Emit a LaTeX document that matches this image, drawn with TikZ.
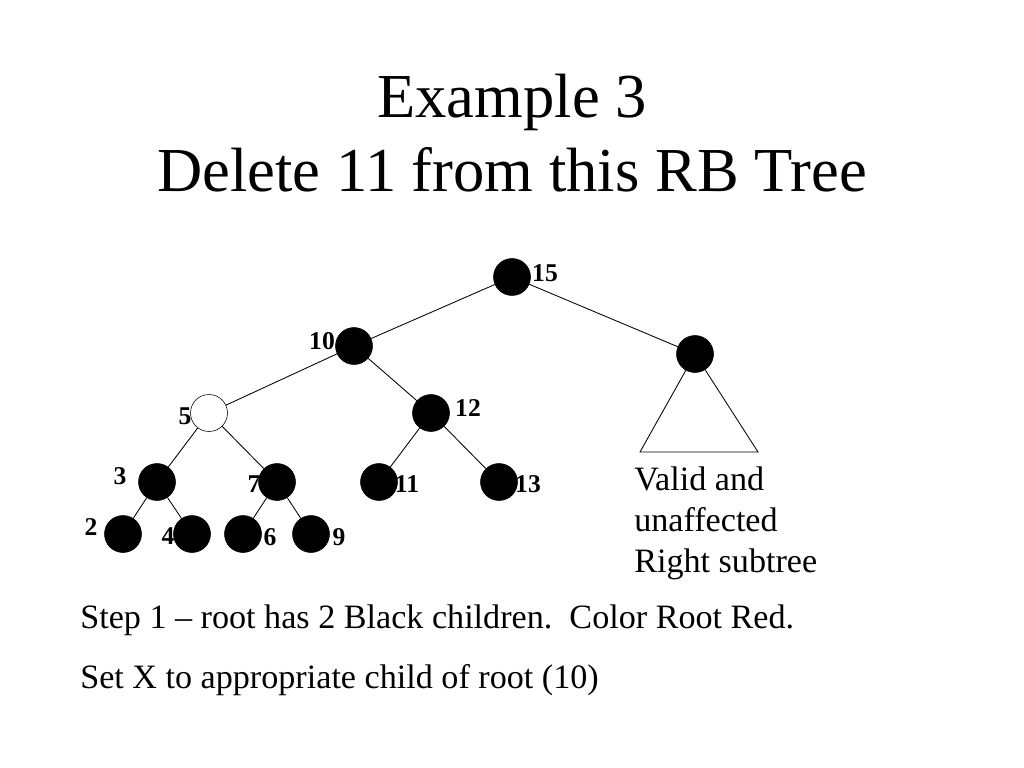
\documentclass[tikz,border=0pt]{standalone}
\usepackage{fontspec}
\setmainfont{Liberation Serif}
\usetikzlibrary{positioning}

\begin{document}
\begin{tikzpicture}[x=0.703125pt,y=-0.703125pt,
  blk/.style={circle,draw,fill=black,minimum size=26,inner sep=0pt},
  wht/.style={circle,draw,fill=white,minimum size=26,inner sep=0pt},
  lbl/.style={font=\fontsize{18}{21}\selectfont\bfseries,inner sep=0pt},
  txt/.style={font=\fontsize{24}{28.8}\selectfont,inner sep=0pt},
  ttl/.style={font=\fontsize{44}{52.8}\selectfont,inner sep=0pt},
  edge/.style={line width=0.6pt}
]
\useasboundingbox (0,0) rectangle (1024,768);

\node[ttl,anchor=base] (T1) at (512,118) {Example 3};
\node[ttl,anchor=base] (T2) at (512,192) {Delete 11 from this RB Tree};

\coordinate (S-L) at (640,452);
\coordinate (S-R) at (758,452);

\node[blk] (N15) at (512,277) {};
\node[blk] (N10) at (354,346) {};
\node[blk] (NR) at (695,354) {};
\node[wht] (N5) at (209,413) {};
\node[blk] (N12) at (431,413) {};
\node[blk] (N3) at (157,482) {};
\node[blk] (N7) at (277,482) {};
\node[blk] (N11) at (379,482) {};
\node[blk] (N13) at (499,482) {};
\node[blk] (N2) at (123,534) {};
\node[blk] (N4) at (192,534) {};
\node[blk] (N6) at (243,534) {};
\node[blk] (N9) at (311,534) {};

\node[lbl] (L15) at (545,273) {15};
\node[lbl] (L10) at (322,341) {10};
\node[lbl] (L5) at (185,416) {5};
\node[lbl] (L12) at (468,408) {12};
\node[lbl] (L3) at (120,476) {3};
\node[lbl] (L7) at (254,484) {7};
\node[lbl] (L11) at (407,484) {11};
\node[lbl] (L13) at (528,484) {13};
\node[lbl] (L2) at (91,527) {2};
\node[lbl] (L4) at (168,536) {4};
\node[lbl] (L6) at (270,537) {6};
\node[lbl] (L9) at (339,537) {9};

\draw[edge]
(N15) -- (N10)
(N15) -- (NR)
(N10) -- (N5)
(N10) -- (N12)
(N5) -- (N3)
(N5) -- (N7)
(N12) -- (N11)
(N12) -- (N13)
(N3) -- (N2)
(N3) -- (N4)
(N7) -- (N6)
(N7) -- (N9)
;

\draw[edge] (NR) -- (S-L) -- (S-R) -- (NR);

\node[txt,anchor=north west,align=left] (V) at (634,467)
  {Valid and\\unaffected\\Right subtree};

\node[txt,anchor=base west] (B1) at (80,628)
  {Step 1 -- root has 2 Black children.\ \ Color Root Red.};
\node[txt,anchor=base west] (B2) at (80,688)
  {Set X to appropriate child of root (10)};

\end{tikzpicture}
\end{document}
